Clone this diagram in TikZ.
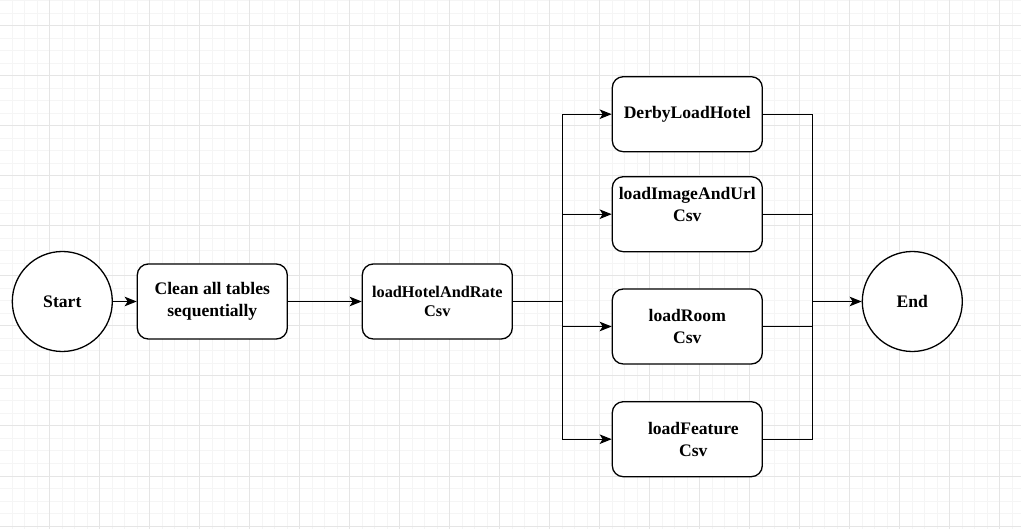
\documentclass[tikz,border=0pt]{standalone}
\usepackage{fontspec}
\setmainfont{Liberation Serif}
\usetikzlibrary{arrows.meta}
\definecolor{gridminor}{RGB}{245,245,245}
\definecolor{gridmajor}{RGB}{229,229,229}
\begin{document}
\begin{tikzpicture}[x=1pt,y=-1pt,
  lbl/.style={font=\bfseries\fontsize{17.6}{22}\selectfont},
  box/.style={lbl, draw, line width=1.3pt, rounded corners=11pt, minimum width=150pt, minimum height=75pt, inner sep=0pt, align=center, fill=white},
  circ/.style={lbl, draw, circle, line width=1.3pt, minimum size=100pt, inner sep=0pt, fill=white},
  conn/.style={line width=1.3pt},
  arr/.style={conn, -{Stealth[length=12pt,width=9.5pt,inset=3pt]}},
  gmin/.style={draw=gridminor, line width=1pt},
  gmaj/.style={draw=gridmajor, line width=1pt},
]
\useasboundingbox (0,0) rectangle (1021,529);
\fill[white] (0,0) rectangle (1021,529);
% grid
\foreach \i in {0,...,82} {
  \pgfmathsetmacro\gx{-0.5+12.5*\i}
  \draw[gmin] (\gx,0) -- (\gx,529);
}
\foreach \j in {0,...,42} {
  \pgfmathsetmacro\gy{1+12.5*\j}
  \draw[gmin] (0,\gy) -- (1021,\gy);
}
\foreach \i in {0,...,20} {
  \pgfmathsetmacro\gx{-0.5+50*\i}
  \draw[gmaj] (\gx,0) -- (\gx,529);
}
\foreach \j in {0,...,10} {
  \pgfmathsetmacro\gy{26+50*\j}
  \draw[gmaj] (0,\gy) -- (1021,\gy);
}
% nodes
\node[circ] (start) at (62.3,301.5) {Start};
\node[box] (clean) at (212.3,301.5) {Clean all tables\\sequentially};
\node[box, font=\bfseries\fontsize{16.3}{18.5}\selectfont] (lhr) at (437.3,301.5) {loadHotelAndRate\\Csv};
\node[box] (derby) at (687.3,114.2) {DerbyLoadHotel};
\node[box] (img) at (687.3,214.2) {loadImageAndUrl\\Csv\rule[-19pt]{0pt}{19pt}};
\node[box] (room) at (687.3,326.5) {loadRoom\\Csv};
\node[box] (feat) at (687.3,439.2) {\hspace*{12pt}loadFeature\\\hspace*{12pt}Csv};
\node[circ] (end) at (912.3,301.5) {End};
\coordinate (split) at (562.3,301.5);
\coordinate (merge) at (812.3,301.5);
% connectors
\draw[arr] (start) -- (clean);
\draw[arr] (clean) -- (lhr);
\draw[arr] (lhr.east) -- (split) |- (derby.west);
\draw[arr] (lhr.east) -- (split) |- (img.west);
\draw[arr] (lhr.east) -- (split) |- (room.west);
\draw[arr] (lhr.east) -- (split) |- (feat.west);
\draw[conn] (derby.east) -| (merge);
\draw[conn] (img.east) -| (merge);
\draw[conn] (room.east) -| (merge);
\draw[conn] (feat.east) -| (merge);
\draw[arr] (merge) -- (end);
\end{tikzpicture}
\end{document}
